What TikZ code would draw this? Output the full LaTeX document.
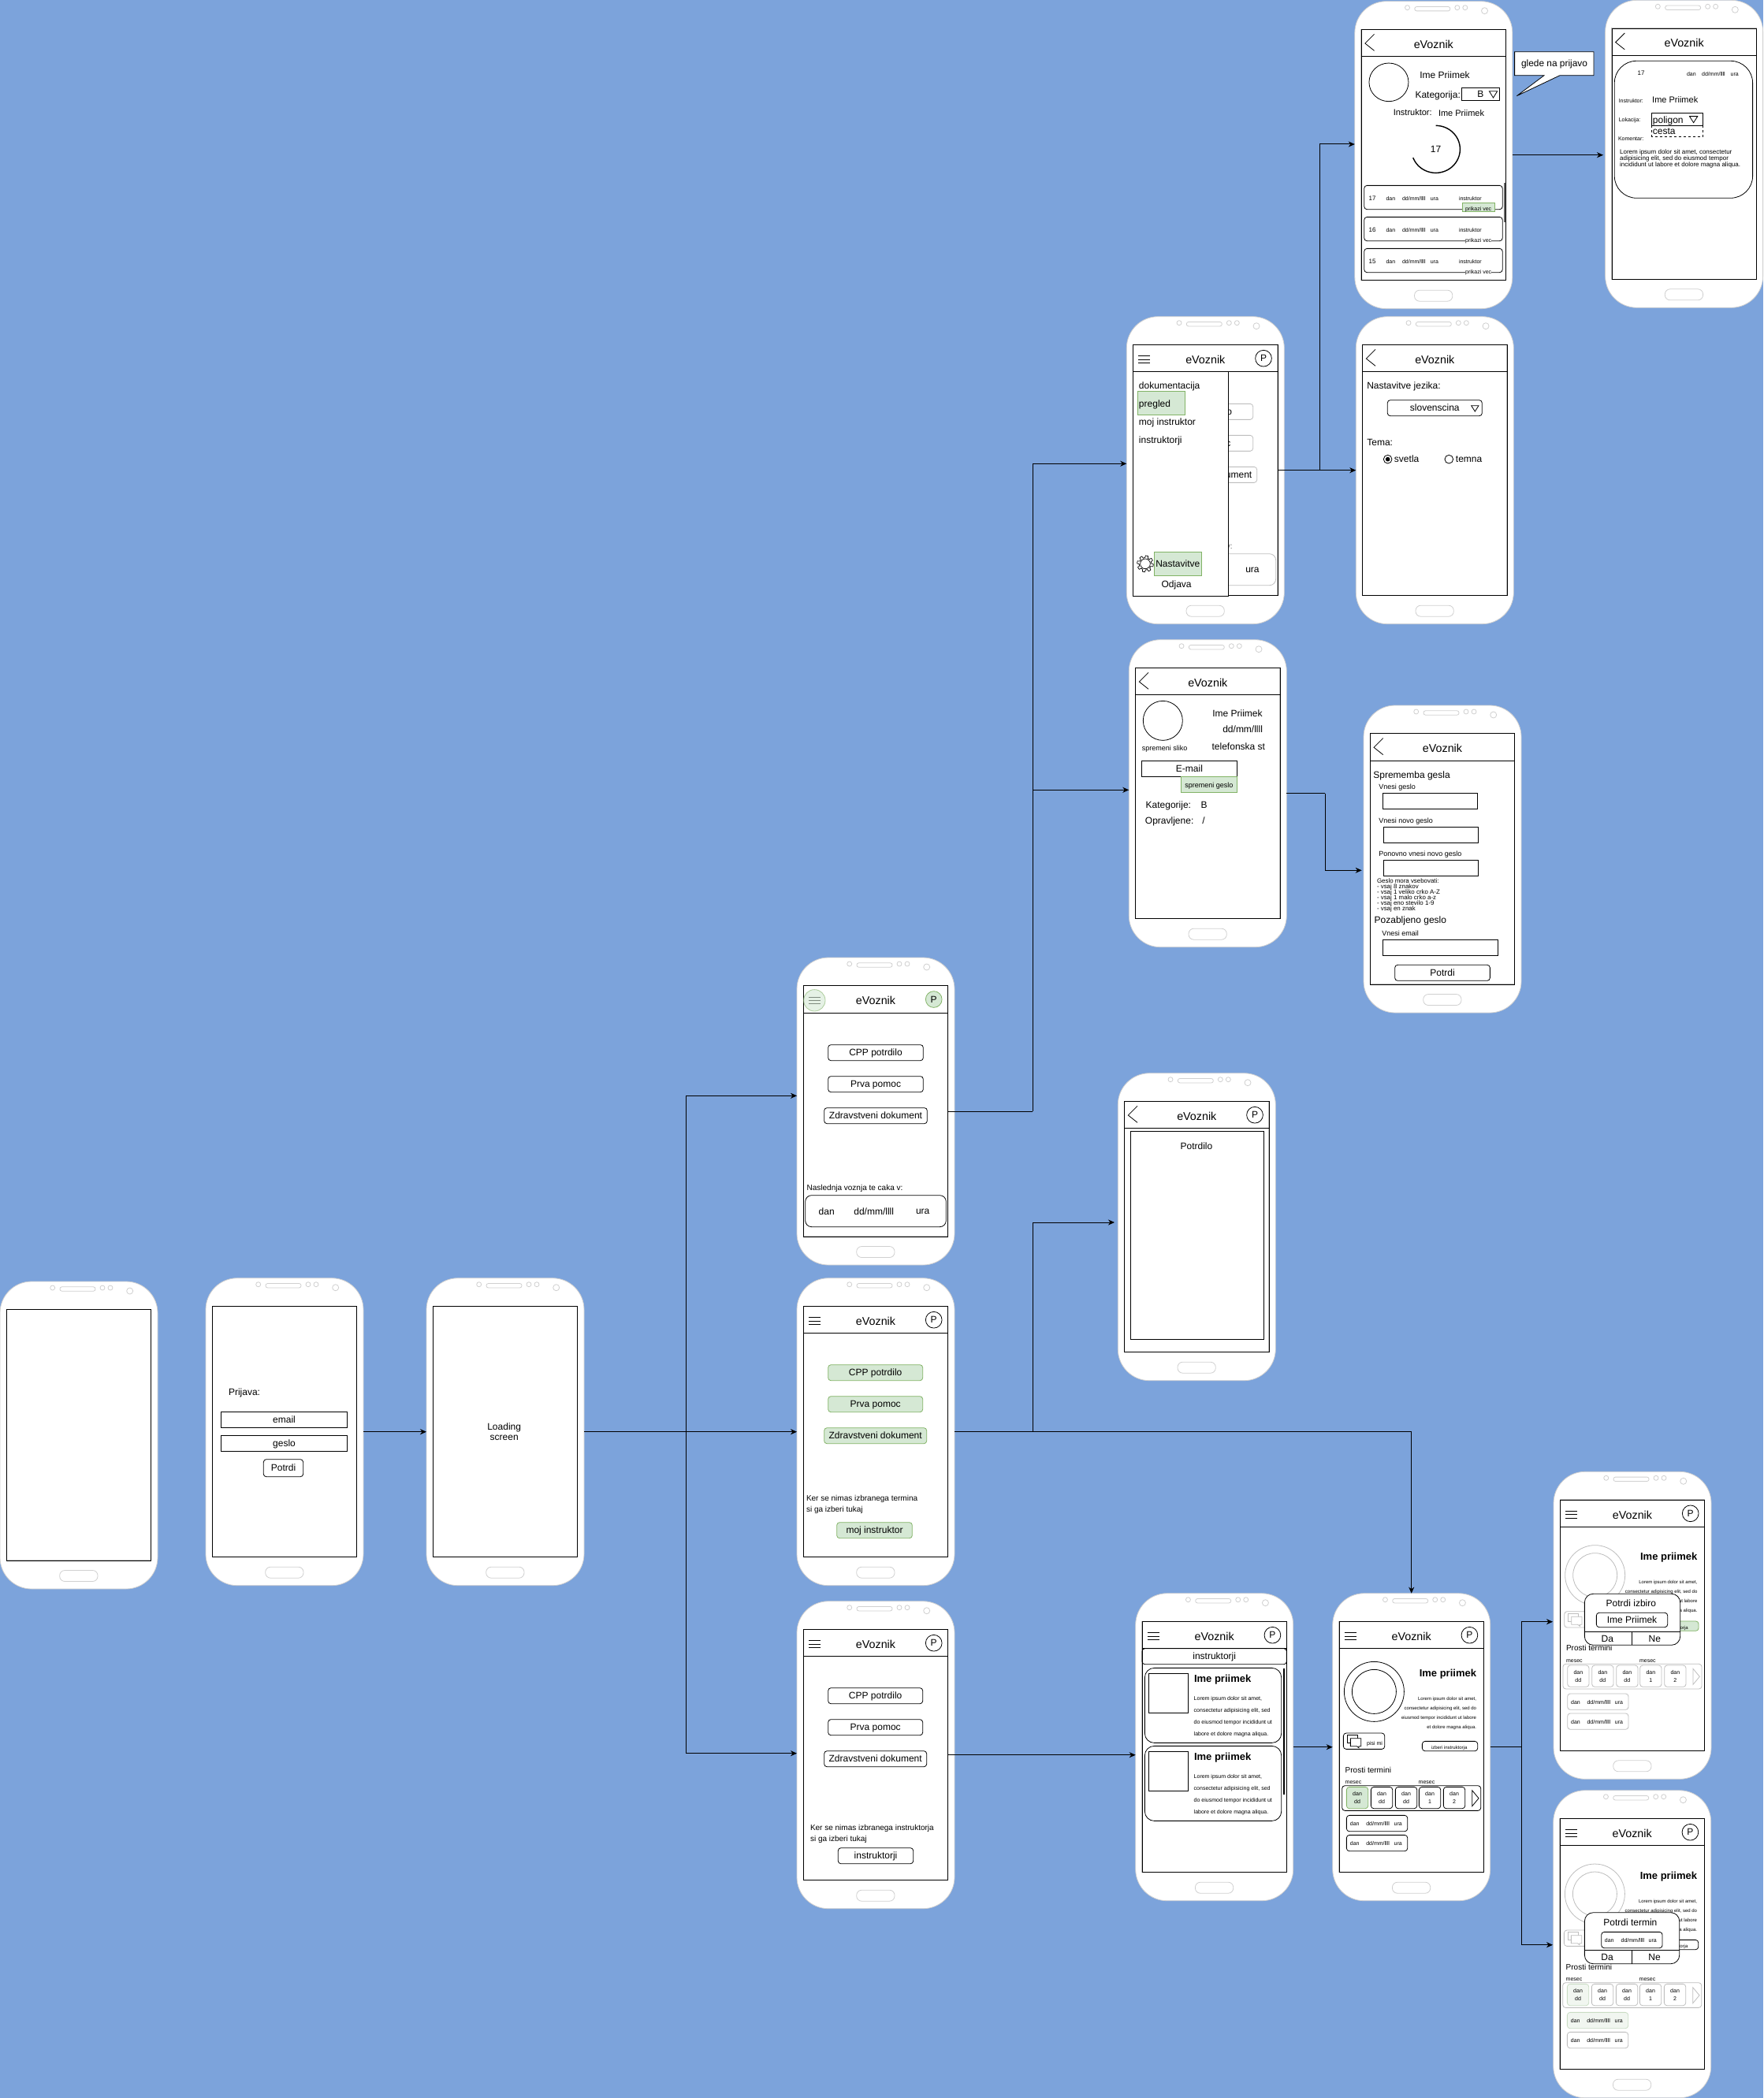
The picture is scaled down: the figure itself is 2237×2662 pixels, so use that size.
\documentclass[tikz,border=0pt]{standalone}
\usepackage{fontspec}
\setmainfont{Liberation Sans}
\usetikzlibrary{arrows.meta}
\definecolor{bgblue}{HTML}{7CA3DB}
\definecolor{gfill}{HTML}{D5E8D4}
\definecolor{gline}{HTML}{82B366}
\definecolor{gfaint}{HTML}{F1F6F0}
\definecolor{gfaintl}{HTML}{C9DDC4}
\definecolor{phline}{HTML}{D0D0D0}
\definecolor{fade}{HTML}{BEBEBE}
\newcounter{nn}
\newcommand\fs[1]{\fontsize{#1}{#1}\selectfont}
\def\zxs{0.33333pt}
\tikzset{
  phonebody/.style={rectangle,rounded corners=40pt,minimum width=200pt,minimum height=390pt,anchor=north west,draw=phline,fill=white,line width=0.8pt,inner sep=0pt,outer sep=0pt},
  part/.style={draw=phline,line width=0.8pt},
  scrn/.style={draw=black,line width=0.85pt},
  txt/.style={inner sep=0pt,outer sep=0pt,anchor=center,text=black},
  box/.style={draw=black,line width=0.8pt},
  rbox/.style={draw=black,line width=0.8pt,rounded corners=3.5pt},
  gbox/.style={draw=gline,fill=gfill,line width=0.8pt},
  grbox/.style={gbox,rounded corners=3.5pt},
  pcirc/.style={circle,draw=black,fill=white,line width=0.8pt,minimum size=20.7pt,inner sep=0pt},
  conn/.style={draw=black,line width=1pt,-{Stealth[length=8pt,width=7pt,inset=2.5pt]}},
  plainconn/.style={draw=black,line width=1pt},
}
\newcommand\Tx[5][]{\stepcounter{nn}\node[txt,#1,yshift=-1pt,name=n\thenn] at ({#2},{#3}) {\fs{#4}\vphantom{Ag}#5};}
\newcommand\Lx[5][]{\Tx[anchor=west,#1]{#2}{#3}{#4}{#5}}
\newcommand\Rx[5][]{\Tx[anchor=east,#1]{#2}{#3}{#4}{#5}}
\newcommand\Bx[7][rbox]{\draw[#1] (#2,#3) rectangle (#4,#5);\Tx{(#2+#4)/2}{(#3+#5)/2}{#6}{#7}}
\newcommand\Tri[6]{\draw[line width=0.8pt] (#1,#2) -- (#3,#4) -- (#5,#6) -- cycle;}
\newcommand\Phone[7]{%
  \begin{scope}[shift={(#2,#3)}]
    \node[phonebody] (#1) at (0,0) {};
    \draw[part,rounded corners=2.5pt] (76,6.8) rectangle (121,12.2);
    \draw[part] (66.7,8) circle[radius=3];
    \draw[part] (130,8) circle[radius=3];
    \draw[part] (140,8) circle[radius=3];
    \draw[part] (164.7,12) circle[radius=4];
    \draw[part,rounded corners=6.5pt] (75.7,366.5) rectangle (124,380.5);
    \draw[draw=fade,line width=1.4pt] (8.3,35.7) rectangle (191.7,354);
    \draw[scrn] (8.3,35.7) rectangle (191.7,354);
    #4
    \begin{scope}[x=\zxs,y=-0.33333pt,shift={(-#5,-#6)}]
      #7
    \end{scope}
  \end{scope}}
\newcommand\HLine{\draw[scrn] (8.3,70) -- (191.7,70);\Tx{100}{55}{14.3}{eVoznik}}
\newcommand\HBurger{\foreach \yy in {50,54.3,58.7}{\draw[line width=0.7pt] (15,\yy) -- (30,\yy);}}
\newcommand\HPc[1][]{\stepcounter{nn}\node[pcirc,#1,name=n\thenn] at (173.7,53) {\fs{12}P};}
\newcommand\HMenu{\HLine\HBurger\HPc}
\newcommand\HBack{\HLine\draw[line width=0.8pt] (24.7,41.6) -- (13,53.3) -- (24.7,62.6);}
\newcommand\DayCard[3]{\draw[rbox,#2] (#1,737) rectangle (#1+82,819);\Tx{#1+41}{762}{7}{dan}\Tx{#1+41}{792}{7}{#3}}
\newcommand\RowItem[2]{\draw[rbox,#2] (53,#1) rectangle (285,#1+61);\Tx{84}{#1+31}{7}{dan}\Tx{172}{#1+31}{7}{dd/mm/llll}\Tx{249}{#1+31}{7}{ura}}
\newcommand\Detail[5]{%
  \draw[draw=#1,line width=0.8pt] (158,374+#2) circle[radius=114];
  \draw[draw=#1,line width=0.8pt] (158,374+#2) circle[radius=84];
  \Rx[font=\bfseries]{547}{304+#2}{13}{Ime priimek}
  \Rx{547}{400+#2}{6}{Lorem ipsum dolor sit amet,}
  \Rx{547}{436+#2}{6}{consectetur adipisicing elit, sed do}
  \Rx{547}{472+#2}{6}{eiusmod tempor incididunt ut labore}
  \Rx{547}{508+#2}{6}{et dolore magna aliqua.}
  \draw[rbox,draw=#1] (41,532) rectangle (198,593);
  \draw[draw=#1,line width=0.8pt,fill=white] (55,540) rectangle (95,570);
  \draw[draw=#1,line width=0.8pt,fill=white] (68,552) -- (108,552) -- (108,582) -- (100,582) -- (100,588) -- (92,582) -- (68,582) -- cycle;
  \Tx{160}{570}{7}{pisi mi}
  \draw[rbox,#3] (341,563+#2*0.3) rectangle (552,600+#2*0.3);
  \Tx{444}{586+#2*0.3}{6}{izberi instruktorja}
  \Lx{48}{672}{10}{Prosti termini}
  \Lx{48}{717}{7}{mesec}
  \Lx{327}{717}{7}{mesec}
  \draw[rbox,draw=#1] (36,732) rectangle (564,827);
  \DayCard{53}{#4}{dd}
  \DayCard{146}{draw=#1}{dd}
  \DayCard{239}{draw=#1}{dd}
  \DayCard{329}{draw=#1}{1}
  \DayCard{422}{draw=#1}{2}
  \draw[draw=#1,line width=0.8pt] (531,750) -- (556,780) -- (531,810) -- cycle;
  \RowItem{845}{#5}
  \RowItem{920}{draw=#1}
}
\newcommand\Popup[2]{%
  \draw[rbox,rounded corners=11pt,fill=white] (#1,465) rectangle (#2,660);
  \draw[box] (#1,608) -- (#2,608);
  \draw[box] (299,608) -- (299,660);
  \Tx{205}{637}{12}{Da}
  \Tx{385}{637}{12}{Ne}
}
\begin{document}
\begin{tikzpicture}[x=1pt,y=-1pt]
\path[use as bounding box] (0,0) rectangle (2237,2662);
\fill[bgblue] (0,0) rectangle (2237,2662);

\Phone{p1}{0}{1626}{}{0}{0}{}

\Phone{p2}{261}{1621.7}{}{33}{35}{
  \Lx{120}{470}{12}{Prijava:}
  \Bx[box]{91}{545}{572}{605}{12}{email}
  \Bx[box]{91}{634}{572}{695}{12}{geslo}
  \Bx[rbox]{253}{725}{404}{791}{12}{Potrdi}
}

\Phone{p3}{541}{1621.7}{}{873}{35}{
  \Tx{1169}{600}{12}{Loading}
  \Tx{1169}{642}{12}{screen}
}

\Phone{p4}{1011}{1215}{\HLine\HBurger
  \fill[gfill,opacity=0.6] (22.3,54.3) circle[radius=13.7];
  \draw[draw=gline,line width=0.8pt,opacity=0.6] (22.3,54.3) circle[radius=13.7];
  \HPc[fill=gfill,draw=gline]}{33}{45}{
  \Bx{152}{377}{514}{437}{12}{CPP potrdilo}
  \Bx{152}{497}{514}{557}{12}{Prva pomoc}
  \Bx{137}{617}{529}{677}{12}{Zdravstveni dokument}
  \Lx{71}{920}{10}{Naslednja voznja te caka v:}
  \draw[rbox,rounded corners=8pt] (65,950) rectangle (601,1070);
  \Tx{146}{1011}{12}{dan}
  \Tx{326}{1011}{12}{dd/mm/llll}
  \Tx{512}{1011}{12}{ura}
}

\Phone{p5}{1011}{1621.7}{\HMenu}{33}{35}{
  \Bx[grbox]{152}{365}{512}{425}{12}{CPP potrdilo}
  \Bx[grbox]{152}{485}{512}{545}{12}{Prva pomoc}
  \Bx[grbox]{137}{605}{527}{665}{12}{Zdravstveni dokument}
  \Lx{69}{872}{10}{Ker se nimas izbranega termina}
  \Lx{69}{914}{10}{si ga izberi tukaj}
  \Bx[grbox]{185}{965}{472}{1025}{12}{moj instruktor}
}

\Phone{p6}{1011}{2031.7}{\HMenu}{33}{35}{
  \Bx{152}{365}{512}{425}{12}{CPP potrdilo}
  \Bx{152}{485}{512}{545}{12}{Prva pomoc}
  \Bx{137}{605}{527}{665}{12}{Zdravstveni dokument}
  \Lx{84}{896}{10}{Ker se nimas izbranega instruktorja}
  \Lx{84}{938}{10}{si ga izberi tukaj}
  \Bx{190}{974}{476}{1034}{12}{instruktorji}
}

\Phone{p7}{1429.3}{401.7}{\HMenu}{28}{5}{
  \Bx[rbox,draw=fade]{147}{337}{509}{397}{12}{CPP potrdilo}
  \Bx[rbox,draw=fade]{147}{457}{509}{517}{12}{Prva pomoc}
  \Bx[rbox,draw=fade]{132}{577}{524}{637}{12}{Zdravstveni dokument}
  \Lx[text=black!60]{66}{878}{10}{Naslednja voznja te caka v:}
  \draw[rbox,rounded corners=8pt,draw=fade] (60,908) rectangle (596,1028);
  \Tx{507}{969}{12}{ura}
  \draw[box,fill=white] (53,215) rectangle (414,1068);
  \Lx{75}{267}{12}{dokumentacija}
  \draw[gbox] (71,290) rectangle (250,379);
  \Lx{75}{336}{12}{pregled}
  \Lx{75}{405}{12}{moj instruktor}
  \Lx{75}{474}{12}{instruktorji}
  \draw[line width=0.7pt,domain=0:360,samples=145,variable=\t] plot ({99+(27+4*sign(sin(8*\t)))*cos(\t)},{946+(27+4*sign(sin(8*\t)))*sin(\t)}) -- cycle;
  \draw[line width=0.7pt] (99,946) circle[radius=19];
  \Bx[gbox]{132}{901}{314}{991}{12}{Nastavitve}
  \Tx{218}{1023}{12}{Odjava}
}

\Phone{p8}{1720.3}{401.7}{\HBack}{901}{5}{
  \Lx{943}{267}{12}{Nastavitve jezika:}
  \Bx{1021}{323}{1381}{383}{12}{slovenscina}
  \Tri{1340}{344}{1368}{344}{1354}{366}
  \Lx{943}{485}{12}{Tema:}
  \draw[line width=0.8pt] (1022,548) circle[radius=16];
  \fill (1022,548) circle[radius=8.5];
  \Lx{1047}{548}{12}{svetla}
  \draw[line width=0.8pt] (1255,548) circle[radius=16];
  \Lx{1281}{548}{12}{temna}
}

\def\zxs{0.3425pt}
\Phone{p9}{1718.8}{1.7}{\HBack}{55}{5}{
  \draw[line width=0.8pt] (181,313) circle[radius=73];
  \Lx{296}{285}{12}{Ime Priimek}
  \Lx{279}{360}{12}{Kategorija:}
  \draw[box] (452,334) rectangle (592,383);
  \Tx{521}{359}{12}{B}
  \Tri{553}{347}{583}{347}{568}{372}
  \Lx{198}{428}{11}{Instruktor:}
  \Lx{365}{430}{11}{Ime Priimek}
  \draw[line width=1.4pt,domain=90:-159,samples=60,smooth,variable=\t] plot ({355+90*cos(\t)},{568-90*sin(\t)});
  \Tx{355}{570}{12}{17}
  \draw[draw=black!60,line width=1.2pt] (610,695) -- (610,845);
  \foreach \ry/\rn in {0/17,120/16,240/15}{
    \draw[rbox] (90,706+\ry) rectangle (602,797+\ry);
    \Tx{120}{755+\ry}{8}{\rn}
    \Tx{188}{755+\ry}{7}{dan}
    \Tx{274}{755+\ry}{7}{dd/mm/llll}
    \Tx{350}{755+\ry}{7}{ura}
    \Tx{483}{755+\ry}{7}{instruktor}
  }
  \draw[gbox] (455,772) rectangle (573,804);
  \Tx{513}{795}{7}{prikazi vec}
  \Tx[fill=white]{513}{915}{7}{prikazi vec}
  \Tx[fill=white]{513}{1035}{7}{prikazi vec}
}

\Phone{p10}{2036.6}{0.3}{\HBack}{983}{1}{
  \draw[rbox,rounded corners=28pt] (1017,232) rectangle (1529,754);
  \Tx{1116}{279}{8}{17}
  \Tx{1302}{281}{7}{dan}
  \Tx{1384}{281}{7}{dd/mm/llll}
  \Tx{1462}{281}{7}{ura}
  \Lx{1033}{383}{7}{Instruktor:}
  \Lx{1157}{379}{11}{Ime Priimek}
  \Lx{1033}{455}{7}{Lokacija:}
  \Lx{1031}{527}{7}{Komentar:}
  \draw[box] (1154,431) rectangle (1345,478);
  \Lx{1159}{456}{12}{poligon}
  \Tri{1295}{443}{1325}{443}{1310}{467}
  \draw[box,dashed] (1155,478) rectangle (1345,520);
  \Lx{1159}{501}{12}{cesta}
  \Lx{1037}{578}{8}{Lorem ipsum dolor sit amet, consectetur}
  \Lx{1037}{602}{8}{adipisicing elit, sed do eiusmod tempor}
  \Lx{1037}{626}{8}{incididunt ut labore et dolore magna aliqua.}
}
\def\zxs{0.33333pt}

\Phone{p11}{1432.3}{811.7}{\HBack}{37}{35}{
  \draw[line width=0.8pt] (166,343) circle[radius=75];
  \Tx{173}{447}{9}{spremeni sliko}
  \Lx{355}{315}{12}{Ime Priimek}
  \Lx{394}{375}{12}{dd/mm/llll}
  \Lx{353}{441}{12}{telefonska st}
  \Bx[box]{86}{496}{448}{557}{12}{E-mail}
  \Bx[gbox]{236}{557}{447}{617}{9}{spremeni geslo}
  \Lx{101}{665}{12}{Kategorije:}
  \Lx{311}{665}{12}{B}
  \Lx{99}{725}{12}{Opravljene:}
  \Lx{316}{725}{12}{/}
}

\Phone{p12}{1730}{895}{\HBack}{30}{15}{
  \Lx{67}{279}{12}{Sprememba gesla}
  \Lx{88}{325}{9}{Vnesi geslo}
  \draw[box] (103,349) rectangle (464,410);
  \Lx{88}{453}{9}{Vnesi novo geslo}
  \draw[box] (106,478) rectangle (467,539);
  \Lx{88}{579}{9}{Ponovno vnesi novo geslo}
  \draw[box] (106,604) rectangle (467,665);
  \Lx{81}{683}{7.9}{Geslo mora vsebovati:}
  \Lx{81}{704}{7.9}{- vsaj 8 znakov}
  \Lx{81}{725}{7.9}{- vsaj 1 veliko crko A-Z}
  \Lx{81}{746}{7.9}{- vsaj 1 malo crko a-z}
  \Lx{81}{767}{7.9}{- vsaj eno stevilo 1-9}
  \Lx{81}{788}{7.9}{- vsaj en znak}
  \Lx{71}{831}{12}{Pozabljeno geslo}
  \Lx{100}{882}{9}{Vnesi email}
  \draw[box] (103,907) rectangle (542,968);
  \Bx{149}{1003}{511}{1063}{12}{Potrdi}
}

\Phone{p13}{1418.3}{1361.7}{\HBack\HPc}{55}{35}{
  \draw[box] (103,256) rectangle (611,1048);
  \Tx{354}{312}{12}{Potrdilo}
}

\Phone{p14}{1440.7}{2021.7}{\HMenu}{32}{35}{
  \Bx{57}{245}{607}{305}{12}{instruktorji}
  \foreach \cy in {0,297}{
    \draw[rbox,rounded corners=12pt] (67,319+\cy) rectangle (587,604+\cy);
    \draw[box] (82,340+\cy) rectangle (233,491+\cy);
    \Lx[font=\bfseries]{255}{360+\cy}{13}{Ime priimek}
    \Lx{254}{434+\cy}{7}{Lorem ipsum dolor sit amet,}
    \Lx{254}{479+\cy}{7}{consectetur adipisicing elit, sed}
    \Lx{254}{524+\cy}{7}{do eiusmod tempor incididunt ut}
    \Lx{254}{569+\cy}{7}{labore et dolore magna aliqua.}
  }
  \draw[line width=1.3pt] (597,320) -- (597,800);
}

\Phone{p15}{1690.7}{2021.7}{\HMenu}{0}{0}{
  \Detail{black}{0}{draw=black}{draw=gline,fill=gfill}{draw=black}
}

\Phone{p16}{1971}{1867.3}{\HMenu}{0}{0}{
  \Detail{fade}{20}{draw=gline,fill=gfill}{draw=fade}{draw=fade}
  \Popup{118}{482}
  \Tx{295}{502}{12}{Potrdi izbiro}
  \Bx{163}{537}{434}{592}{12}{Ime Priimek}
}

\Phone{p17}{1970.7}{2271.7}{\HMenu}{0}{0}{
  \Detail{fade}{20}{draw=black}{draw=gfaintl,fill=gfaint}{draw=gfaintl,fill=gfaint}
  \Popup{119}{480}
  \Tx{293}{504}{12}{Potrdi termin}
  \draw[rbox] (183,539) rectangle (415,600);
  \Tx{213}{570}{7}{dan}
  \Tx{302}{570}{7}{dd/mm/llll}
  \Tx{378}{570}{7}{ura}
}

% callout
\draw[box,fill=white] (1921.6,65.7) -- (2022,65.7) -- (2022,95.7) -- (1979,95.7) -- (1924.3,121.7) -- (1959,95.7) -- (1921.6,95.7) -- cycle;
\node[txt] (calloutlabel) at (1972,81.5) {\fs{11.9}\vphantom{Ag}glede na prijavo};

% connector points
\coordinate (j3) at (870.6,1816.7);
\coordinate (p4in) at (1011,1390.3);
\coordinate (p6in) at (1011,2224.7);
\coordinate (p4out) at (1202.7,1410);
\coordinate (j4) at (1310,1410);
\coordinate (p7in) at (1429.3,588.3);
\coordinate (p11in) at (1432.3,1002.3);
\coordinate (j5) at (1310,1816.7);
\coordinate (p13in) at (1414,1551);
\coordinate (j6) at (1790.7,1816.7);
\coordinate (p6out) at (1202.7,2226.7);
\coordinate (p14in) at (1440.7,2226.7);
\coordinate (j7) at (1930,2216.7);
\coordinate (p16in) at (1970,2057.7);
\coordinate (p17in) at (1970,2467.7);
\coordinate (p7out) at (1621.3,596.7);
\coordinate (j8) at (1674.3,596.7);
\coordinate (p9in) at (1718.8,183);
\coordinate (p10in) at (2034,196.7);
\coordinate (j9) at (1681,1006.7);
\coordinate (p12in) at (1727.7,1104.3);

\draw[conn] (p2.east) -- (p3.west);
\draw[conn] (p3.east) -- (p5.west);
\draw[conn] (j3) |- (p4in);
\draw[conn] (j3) |- (p6in);
\draw[plainconn] (p4out) -- (j4);
\draw[conn] (j4) |- (p7in);
\draw[conn] (j4) |- (p11in);
\draw[plainconn] (p5.east) -- (j5);
\draw[conn] (j5) |- (p13in);
\draw[conn] (j5) -- (j6) -- (p15.north);
\draw[conn] (p6out) -- (p14in);
\draw[conn] (p14.east) -- (p15.west);
\draw[plainconn] (p15.east) -- (j7);
\draw[conn] (j7) |- (p16in);
\draw[conn] (j7) |- (p17in);
\draw[conn] (p7out) -- (p8.west);
\draw[conn] (j8) |- (p9in);
\draw[conn] (p9.east) -- (p10in);
\draw[plainconn] (p11.east) -- (j9);
\draw[conn] (j9) |- (p12in);
\end{tikzpicture}
\end{document}
